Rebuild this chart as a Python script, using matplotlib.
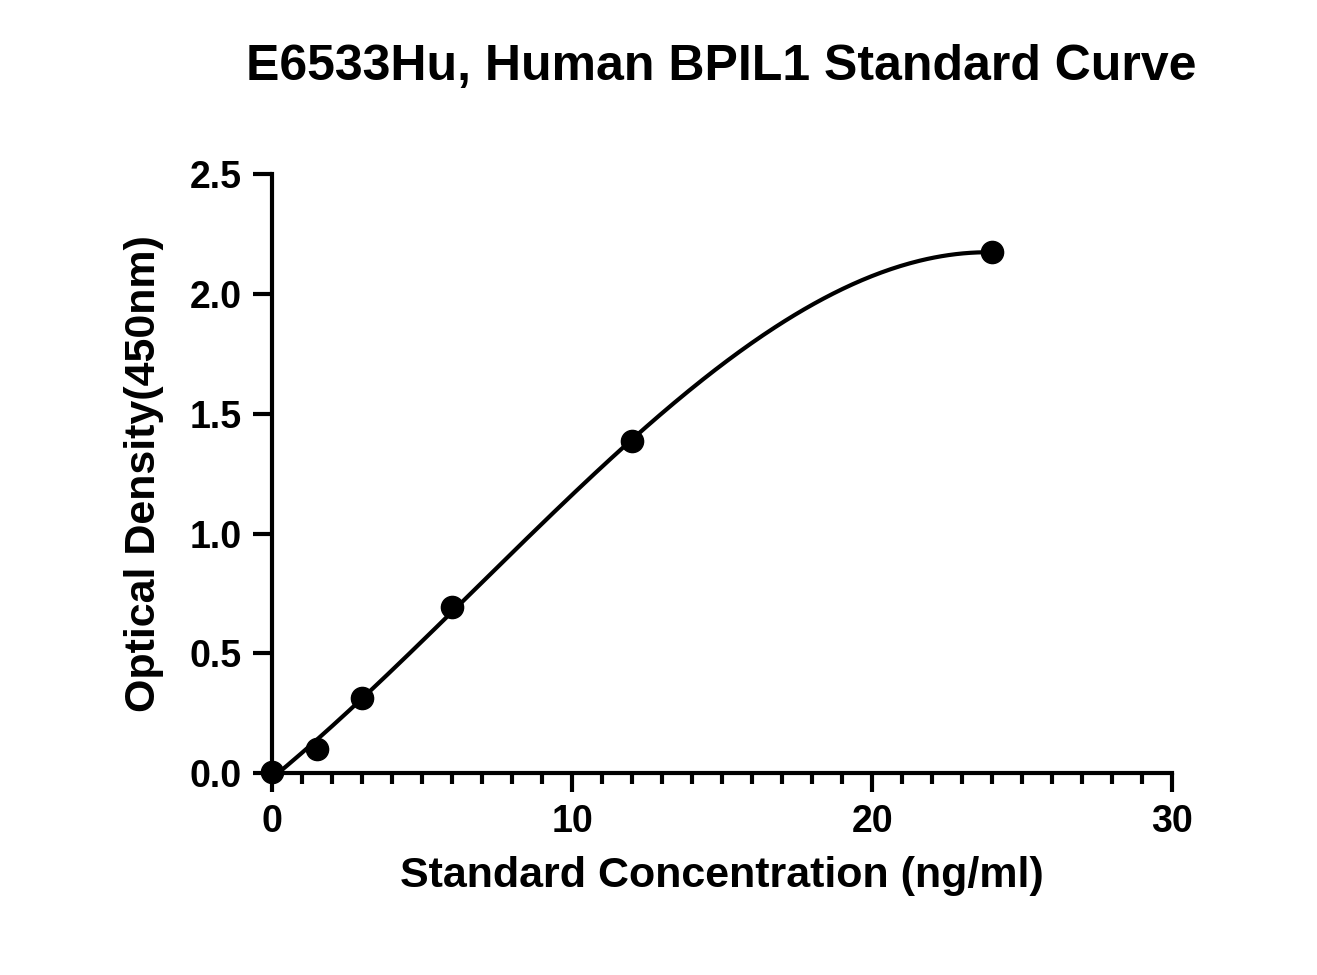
import numpy as np
import matplotlib
matplotlib.use("Agg")
import matplotlib.pyplot as plt
from matplotlib.ticker import MultipleLocator

conc = [0, 1.5, 3, 6, 12, 24]
od = [0.003, 0.10, 0.313, 0.693, 1.386, 2.174]

plt.rcParams['font.family'] = ['Liberation Sans', 'DejaVu Sans']
plt.rcParams['font.weight'] = 'bold'
fig = plt.figure(figsize=(13.17, 9.75), dpi=100)
ax = fig.add_axes([0.2065, 0.207, 0.6835, 0.6145])

c = np.polyfit(conc, od, 3)
xs = np.linspace(0, 24, 300)
ax.plot(xs, np.polyval(c, xs), color='black', lw=3, clip_on=False)
ax.plot(conc, od, 'o', color='black', ms=16, clip_on=False, zorder=5)

ax.set_xlim(0, 30)
ax.set_ylim(0, 2.5)
ax.xaxis.set_major_locator(MultipleLocator(10))
ax.xaxis.set_minor_locator(MultipleLocator(1))
ax.yaxis.set_major_locator(MultipleLocator(0.5))
ax.yaxis.set_major_formatter(matplotlib.ticker.FormatStrFormatter('%.1f'))
for s in ['top', 'right']:
    ax.spines[s].set_visible(False)
for s in ['left', 'bottom']:
    ax.spines[s].set_linewidth(3)
ax.tick_params(which='major', length=14, width=3, labelsize=27, pad=8)
ax.tick_params(which='minor', length=8, width=3)
for t in ax.get_xticklabels() + ax.get_yticklabels():
    t.set_fontweight('bold')
ax.set_xlabel('Standard Concentration (ng/ml)', fontsize=31, fontweight='bold', labelpad=12)
ax.set_ylabel('Optical Density(450nm)', fontsize=31, fontweight='bold', labelpad=18)
fig.suptitle('E6533Hu, Human BPIL1 Standard Curve', fontsize=36, fontweight='bold', x=0.548, y=0.955)
fig.savefig('out.png', dpi=100)
